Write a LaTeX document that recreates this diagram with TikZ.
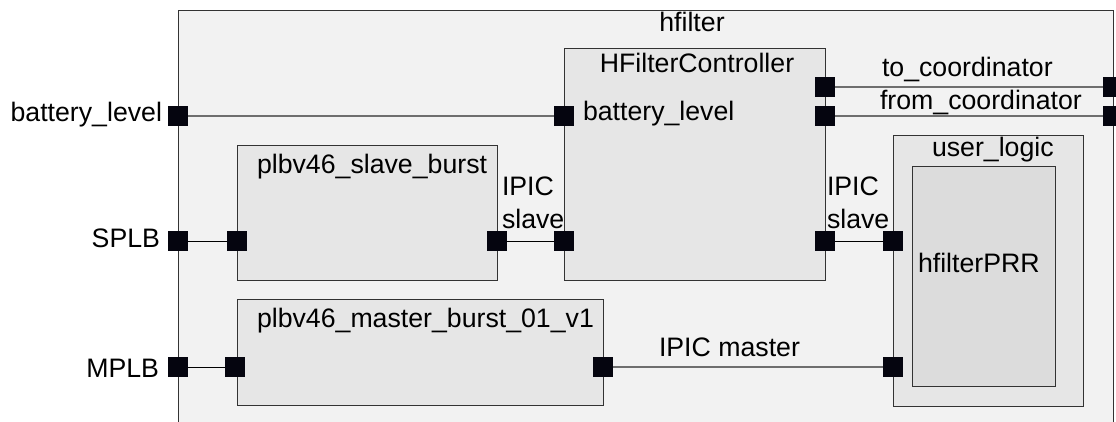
\documentclass[tikz,border=0pt]{standalone}
\usepackage{fontspec}
\setmainfont{Liberation Sans}
\definecolor{outerfill}{HTML}{F2F2F2}
\definecolor{boxfill}{HTML}{E6E6E6}
\definecolor{prrfill}{HTML}{DCDCDC}
\definecolor{edgecol}{HTML}{333333}
\definecolor{wiregray}{HTML}{6E6E6E}
\definecolor{portcol}{HTML}{05050F}
\tikzset{
  blk/.style={draw=edgecol, line width=1pt, inner sep=0pt, outer sep=0pt, anchor=north west},
  port/.style={fill=portcol, draw=none, minimum size=20pt, inner sep=0pt, outer sep=0pt},
  lbl/.style={inner sep=0pt, outer sep=0pt, font=\fontsize{26.7}{30}\selectfont},
  longwire/.style={draw=wiregray, line width=2pt},
  shortwire/.style={draw=black, line width=0.9pt},
}
\begin{document}
\begin{tikzpicture}[x=1pt, y=-1pt]
\clip (0,0) rectangle (1116,421);
\fill[white] (0,0) rectangle (1116,421);
% blocks
\node[blk, fill=outerfill, minimum width=935pt, minimum height=440pt] (hfilter) at (178,10) {};
\node[blk, fill=boxfill, minimum width=261pt, minimum height=232pt] (hfc) at (564,48) {};
\node[blk, fill=boxfill, minimum width=260pt, minimum height=135pt] (slave) at (237,145) {};
\node[blk, fill=boxfill, minimum width=366pt, minimum height=106pt] (master) at (237,299) {};
\node[blk, fill=boxfill, minimum width=190pt, minimum height=271pt] (ulogic) at (893,135) {};
\node[blk, fill=prrfill, minimum width=143pt, minimum height=220pt] (prr) at (912,166) {};
% ports
\node[port] (pbo) at (178,116) {};
\node[port] (pbi) at (564,116) {};
\node[port] (pto) at (825,87) {};
\node[port] (pfr) at (825,116) {};
\node[port] (ptoo) at (1113,87) {};
\node[port] (pfro) at (1113,116) {};
\node[port] (psplb) at (178,241) {};
\node[port] (pss1) at (237,241) {};
\node[port] (pss2) at (497,241) {};
\node[port] (phs) at (564,241) {};
\node[port] (phr) at (825,241) {};
\node[port] (pul1) at (893,241) {};
\node[port] (pmplb) at (178,367) {};
\node[port] (pm1) at (235,367) {};
\node[port] (pm2) at (603,367) {};
\node[port] (pul2) at (893,367) {};
% wires
\draw[longwire] (pbo) -- (pbi);
\draw[longwire] (pto) -- (ptoo);
\draw[longwire] (pfr) -- (pfro);
\draw[longwire] (pm2) -- (pul2);
\draw[shortwire] (psplb) -- (pss1);
\draw[shortwire] (pss2) -- (phs);
\draw[shortwire] (phr) -- (pul1);
\draw[shortwire] (pmplb) -- (pm1);
% labels
\node[lbl, anchor=base] (thfilter) at (692,31) {hfilter};
\node[lbl, anchor=base] (thfc) at (697,72) {HFilterController};
\node[lbl, anchor=base west] (tbli) at (583,120) {battery\_level};
\node[lbl, anchor=base east] (tblo) at (162,121) {battery\_level};
\node[lbl, anchor=base east] (tsplb) at (160,247) {SPLB};
\node[lbl, anchor=base east] (tmplb) at (159,377) {MPLB};
\node[lbl, anchor=base west] (tslave) at (257,173) {plbv46\_slave\_burst};
\node[lbl, anchor=base west] (tmaster) at (257,327) {plbv46\_master\_burst\_01\_v1};
\node[lbl, anchor=base west] (tipic1) at (502,195) {IPIC};
\node[lbl, anchor=base west] (tsl1) at (502,228) {slave};
\node[lbl, anchor=base west] (tipic2) at (827,195) {IPIC};
\node[lbl, anchor=base west] (tsl2) at (827,228) {slave};
\node[lbl, anchor=base west] (tto) at (882,76) {to\_coordinator};
\node[lbl, anchor=base west] (tfrom) at (880,109) {from\_coordinator};
\node[lbl, anchor=base west] (tipicm) at (659,356) {IPIC master};
\node[lbl, anchor=base west] (tul) at (932,156) {user\_logic};
\node[lbl, anchor=base west] (tprr) at (918,272) {hfilterPRR};
\end{tikzpicture}
\end{document}
